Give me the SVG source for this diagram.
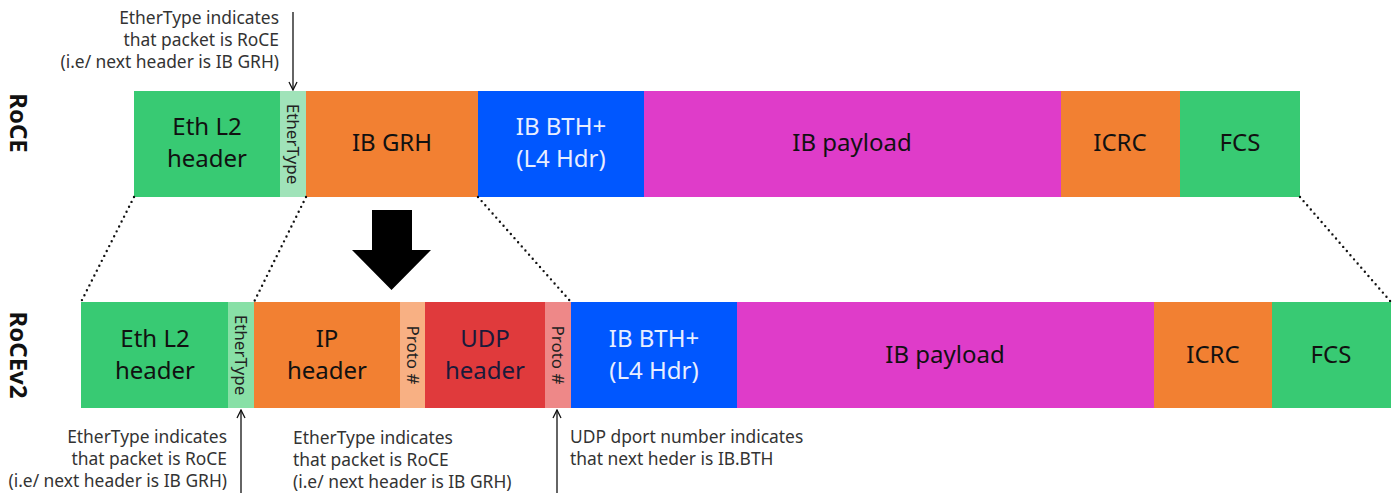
<svg xmlns="http://www.w3.org/2000/svg" width="1397" height="493" viewBox="0 0 1397 493">
<defs>
<style>
text{font-family:"Noto Sans","Open Sans","DejaVu Sans",sans-serif;}
.lbl{font-size:24px;text-anchor:middle;fill:#111;}
.wl{fill:#e8eeff;}
.vl{font-size:17px;text-anchor:middle;fill:#222;}
.ann{font-size:17.4px;fill:#333;}
.side{font-size:24px;font-weight:bold;text-anchor:middle;fill:#111;}
.dot{stroke:#111;stroke-width:2.4;stroke-dasharray:0 5.5;stroke-linecap:round;fill:none;}
.arr{stroke:#111;stroke-width:1.3;fill:none;}
</style>
<marker id="ah" viewBox="0 0 10 10" refX="9" refY="5" markerWidth="10" markerHeight="10" markerUnits="userSpaceOnUse" orient="auto">
<path d="M1,1 L9,5 L1,9" fill="none" stroke="#111" stroke-width="1.3"/>
</marker>
</defs>
<rect width="1397" height="493" fill="#fff"/>

<text class="side" transform="translate(10,123) rotate(90)">RoCE</text>
<text class="side" transform="translate(10,355) rotate(90)">RoCEv2</text>

<g id="top-eth"><rect x="134" y="91" width="146" height="106" fill="#38CA73"/><text class="lbl" x="207" y="135">Eth L2</text><text class="lbl" x="207" y="167">header</text></g>
<g id="top-ethertype"><rect x="280" y="91" width="26" height="106" fill="#A0E3B9"/><text class="vl" transform="translate(287,144) rotate(90)">EtherType</text></g>
<g id="top-grh"><rect x="306" y="91" width="172" height="106" fill="#F28032"/><text class="lbl" x="392" y="151">IB GRH</text></g>
<g id="top-bth"><rect x="478" y="91" width="166" height="106" fill="#0057FF"/><text class="lbl wl" x="561" y="135">IB BTH+</text><text class="lbl wl" x="561" y="167">(L4 Hdr)</text></g>
<g id="top-payload"><rect x="644" y="91" width="417" height="106" fill="#DF3CC9"/><text class="lbl" x="852" y="151">IB payload</text></g>
<g id="top-icrc"><rect x="1061" y="91" width="119" height="106" fill="#F28032"/><text class="lbl" x="1120" y="151">ICRC</text></g>
<g id="top-fcs"><rect x="1180" y="91" width="120" height="106" fill="#38CA73"/><text class="lbl" x="1240" y="151">FCS</text></g>

<g id="bot-eth"><rect x="81" y="302" width="147" height="106" fill="#38CA73"/><text class="lbl" x="155" y="347">Eth L2</text><text class="lbl" x="155" y="379">header</text></g>
<g id="bot-ethertype"><rect x="228" y="302" width="26" height="106" fill="#88E0A6"/><text class="vl" transform="translate(235,355) rotate(90)">EtherType</text></g>
<g id="bot-ip"><rect x="254" y="302" width="146" height="106" fill="#F28032"/><text class="lbl" x="327" y="347">IP</text><text class="lbl" x="327" y="379">header</text></g>
<g id="bot-proto1"><rect x="400" y="302" width="25" height="106" fill="#F8B083"/><text class="vl" transform="translate(406.5,355) rotate(90)">Proto #</text></g>
<g id="bot-udp"><rect x="425" y="302" width="120" height="106" fill="#E03A3C"/><text class="lbl" x="485" y="347" style="fill:#1a1a3a">UDP</text><text class="lbl" x="485" y="379" style="fill:#1a1a3a">header</text></g>
<g id="bot-proto2"><rect x="545" y="302" width="26" height="106" fill="#EE8888"/><text class="vl" transform="translate(552,355) rotate(90)">Proto #</text></g>
<g id="bot-bth"><rect x="571" y="302" width="166" height="106" fill="#0057FF"/><text class="lbl wl" x="654" y="347">IB BTH+</text><text class="lbl wl" x="654" y="379">(L4 Hdr)</text></g>
<g id="bot-payload"><rect x="737" y="302" width="417" height="106" fill="#DF3CC9"/><text class="lbl" x="945" y="363">IB payload</text></g>
<g id="bot-icrc"><rect x="1154" y="302" width="118" height="106" fill="#F28032"/><text class="lbl" x="1213" y="363">ICRC</text></g>
<g id="bot-fcs"><rect x="1272" y="302" width="119" height="106" fill="#38CA73"/><text class="lbl" x="1331" y="363">FCS</text></g>

<g id="connectors">
<line class="dot" x1="134" y1="197" x2="81" y2="302"/>
<line class="dot" x1="306" y1="197" x2="254" y2="302"/>
<line class="dot" x1="478" y1="197" x2="571" y2="302"/>
<line class="dot" x1="1300" y1="197" x2="1391" y2="302"/>
<path d="M372,210 H412 V250 H431 L391.5,290 L352,250 H372 Z" fill="#000"/>
<line class="arr" x1="293" y1="12" x2="293" y2="90" marker-end="url(#ah)"/>
<line class="arr" x1="241" y1="493" x2="241" y2="410" marker-end="url(#ah)"/>
<line class="arr" x1="557" y1="493" x2="557" y2="410" marker-end="url(#ah)"/>
</g>

<g id="annotations">
<text class="ann" text-anchor="end" x="279" y="24">EtherType indicates</text>
<text class="ann" text-anchor="end" x="279" y="46">that packet is RoCE</text>
<text class="ann" text-anchor="end" x="279" y="68">(i.e/ next header is IB GRH)</text>
<text class="ann" text-anchor="end" x="227" y="443">EtherType indicates</text>
<text class="ann" text-anchor="end" x="227" y="465">that packet is RoCE</text>
<text class="ann" text-anchor="end" x="227" y="487">(i.e/ next header is IB GRH)</text>
<text class="ann" x="293" y="444">EtherType indicates</text>
<text class="ann" x="293" y="466">that packet is RoCE</text>
<text class="ann" x="293" y="488">(i.e/ next header is IB GRH)</text>
<text class="ann" x="570" y="443">UDP dport number indicates</text>
<text class="ann" x="570" y="465">that next heder is IB.BTH</text>
</g>
</svg>
